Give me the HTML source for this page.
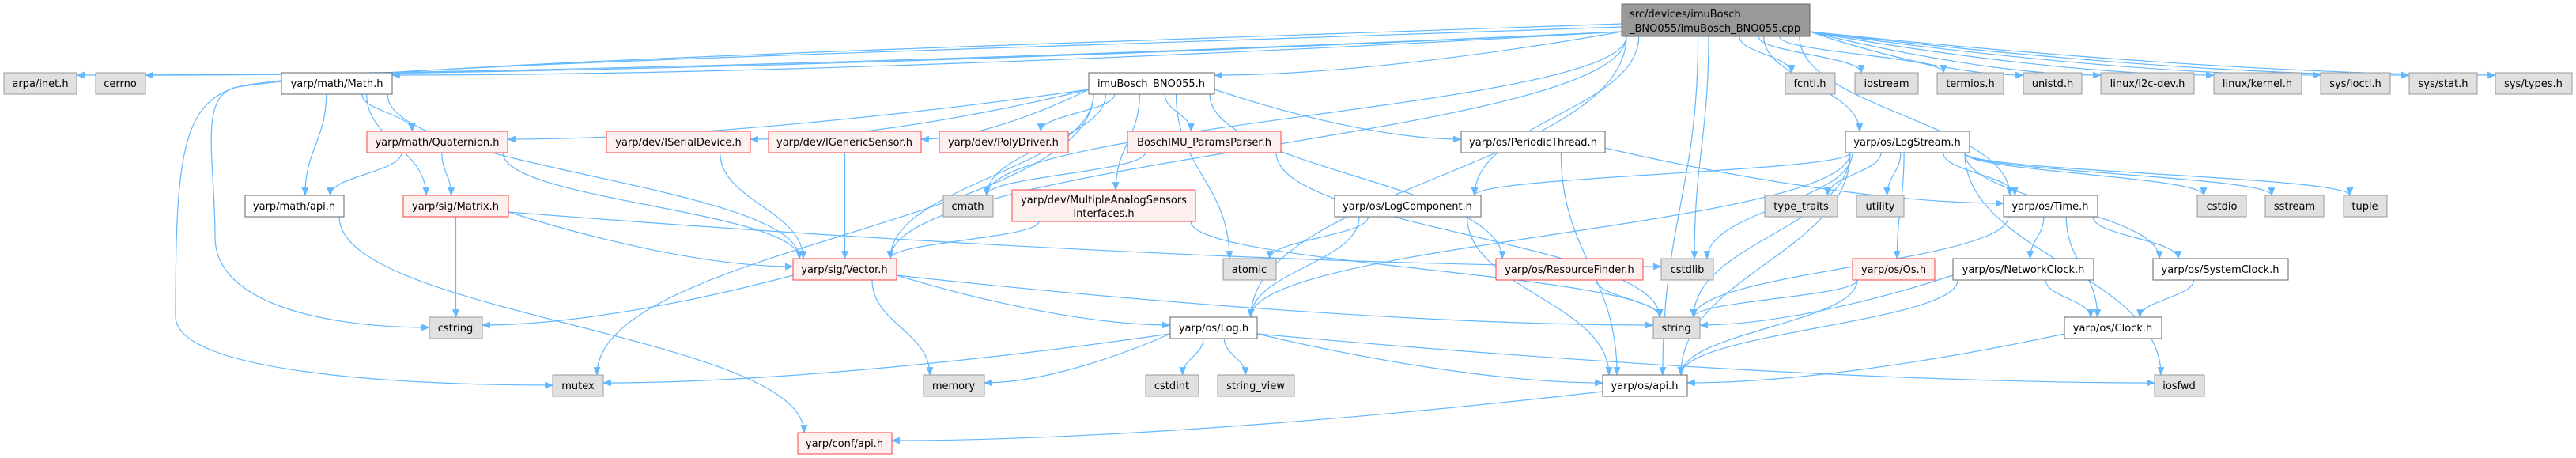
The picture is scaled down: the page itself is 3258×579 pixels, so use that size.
<!DOCTYPE html>
<html><head><meta charset="utf-8"><style>
html,body{margin:0;padding:0;background:#fff;}
svg{display:block;}
text{font-family:"DejaVu Sans","Liberation Sans",sans-serif;font-size:13px;fill:#000;}
</style></head><body>
<svg id="g" width="3258" height="579" viewBox="0 0 3258 579" xmlns="http://www.w3.org/2000/svg">
<defs><marker id="a" viewBox="0 0 10 10" refX="9" refY="5" markerWidth="11" markerHeight="11" markerUnits="userSpaceOnUse" orient="auto"><path d="M0,1 L10,5 L0,9 z" fill="#63b8ff"/></marker></defs>
<g id="edges" fill="none" stroke="#63b8ff" stroke-width="1.2"></g>
<g id="nodes">
<rect x="2051" y="5" width="238" height="41" fill="#999" stroke="#666"/><text x="2061" y="22">src/devices/imuBosch</text><text x="2061" y="40">_BNO055/imuBosch_BNO055.cpp</text>
<rect x="5" y="92" width="92" height="27" fill="#e0e0e0" stroke="#999"/><text x="51" y="110" text-anchor="middle">arpa/inet.h</text>
<rect x="121" y="92" width="63" height="27" fill="#e0e0e0" stroke="#999"/><text x="152" y="110" text-anchor="middle">cerrno</text>
<rect x="356" y="92" width="140" height="27" fill="#fff" stroke="#666"/><text x="426" y="110" text-anchor="middle">yarp/math/Math.h</text>
<rect x="1377" y="92" width="159" height="27" fill="#fff" stroke="#666"/><text x="1456" y="110" text-anchor="middle">imuBosch_BNO055.h</text>
<rect x="2258" y="92" width="63" height="27" fill="#e0e0e0" stroke="#999"/><text x="2289" y="110" text-anchor="middle">fcntl.h</text>
<rect x="2346" y="92" width="80" height="27" fill="#e0e0e0" stroke="#999"/><text x="2386" y="110" text-anchor="middle">iostream</text>
<rect x="2450" y="92" width="84" height="27" fill="#e0e0e0" stroke="#999"/><text x="2492" y="110" text-anchor="middle">termios.h</text>
<rect x="2559" y="92" width="74" height="27" fill="#e0e0e0" stroke="#999"/><text x="2596" y="110" text-anchor="middle">unistd.h</text>
<rect x="2657" y="92" width="118" height="27" fill="#e0e0e0" stroke="#999"/><text x="2716" y="110" text-anchor="middle">linux/i2c-dev.h</text>
<rect x="2800" y="92" width="111" height="27" fill="#e0e0e0" stroke="#999"/><text x="2855" y="110" text-anchor="middle">linux/kernel.h</text>
<rect x="2935" y="92" width="88" height="27" fill="#e0e0e0" stroke="#999"/><text x="2979" y="110" text-anchor="middle">sys/ioctl.h</text>
<rect x="3047" y="92" width="86" height="27" fill="#e0e0e0" stroke="#999"/><text x="3090" y="110" text-anchor="middle">sys/stat.h</text>
<rect x="3156" y="92" width="97" height="27" fill="#e0e0e0" stroke="#999"/><text x="3204" y="110" text-anchor="middle">sys/types.h</text>
<rect x="464" y="166" width="178" height="27" fill="#fff0f0" stroke="#ff4040"/><text x="553" y="184" text-anchor="middle">yarp/math/Quaternion.h</text>
<rect x="767" y="166" width="182" height="27" fill="#fff0f0" stroke="#ff4040"/><text x="858" y="184" text-anchor="middle">yarp/dev/ISerialDevice.h</text>
<rect x="972" y="166" width="193" height="27" fill="#fff0f0" stroke="#ff4040"/><text x="1068" y="184" text-anchor="middle">yarp/dev/IGenericSensor.h</text>
<rect x="1188" y="166" width="163" height="27" fill="#fff0f0" stroke="#ff4040"/><text x="1269" y="184" text-anchor="middle">yarp/dev/PolyDriver.h</text>
<rect x="1426" y="166" width="194" height="27" fill="#fff0f0" stroke="#ff4040"/><text x="1523" y="184" text-anchor="middle">BoschIMU_ParamsParser.h</text>
<rect x="1848" y="166" width="182" height="27" fill="#fff" stroke="#666"/><text x="1939" y="184" text-anchor="middle">yarp/os/PeriodicThread.h</text>
<rect x="2334" y="166" width="157" height="27" fill="#fff" stroke="#666"/><text x="2412" y="184" text-anchor="middle">yarp/os/LogStream.h</text>
<rect x="310" y="247" width="125" height="27" fill="#fff" stroke="#666"/><text x="372" y="265" text-anchor="middle">yarp/math/api.h</text>
<rect x="510" y="247" width="133" height="27" fill="#fff0f0" stroke="#ff4040"/><text x="576" y="265" text-anchor="middle">yarp/sig/Matrix.h</text>
<rect x="1193" y="247" width="63" height="27" fill="#e0e0e0" stroke="#999"/><text x="1224" y="265" text-anchor="middle">cmath</text>
<rect x="1280" y="240" width="232" height="40" fill="#fff0f0" stroke="#ff4040"/><text x="1396" y="257" text-anchor="middle">yarp/dev/MultipleAnalogSensors</text><text x="1396" y="274" text-anchor="middle">Interfaces.h</text>
<rect x="1688" y="247" width="185" height="27" fill="#fff" stroke="#666"/><text x="1780" y="265" text-anchor="middle">yarp/os/LogComponent.h</text>
<rect x="2232" y="247" width="92" height="27" fill="#e0e0e0" stroke="#999"/><text x="2278" y="265" text-anchor="middle">type_traits</text>
<rect x="2348" y="247" width="60" height="27" fill="#e0e0e0" stroke="#999"/><text x="2378" y="265" text-anchor="middle">utility</text>
<rect x="2534" y="247" width="119" height="27" fill="#fff" stroke="#666"/><text x="2593" y="265" text-anchor="middle">yarp/os/Time.h</text>
<rect x="2779" y="247" width="62" height="27" fill="#e0e0e0" stroke="#999"/><text x="2810" y="265" text-anchor="middle">cstdio</text>
<rect x="2865" y="247" width="74" height="27" fill="#e0e0e0" stroke="#999"/><text x="2902" y="265" text-anchor="middle">sstream</text>
<rect x="2964" y="247" width="55" height="27" fill="#e0e0e0" stroke="#999"/><text x="2991" y="265" text-anchor="middle">tuple</text>
<rect x="1003" y="327" width="131" height="27" fill="#fff0f0" stroke="#ff4040"/><text x="1068" y="345" text-anchor="middle">yarp/sig/Vector.h</text>
<rect x="1547" y="327" width="67" height="27" fill="#e0e0e0" stroke="#999"/><text x="1580" y="345" text-anchor="middle">atomic</text>
<rect x="1892" y="327" width="186" height="27" fill="#fff0f0" stroke="#ff4040"/><text x="1985" y="345" text-anchor="middle">yarp/os/ResourceFinder.h</text>
<rect x="2101" y="327" width="66" height="27" fill="#e0e0e0" stroke="#999"/><text x="2134" y="345" text-anchor="middle">cstdlib</text>
<rect x="2343" y="327" width="104" height="27" fill="#fff0f0" stroke="#ff4040"/><text x="2395" y="345" text-anchor="middle">yarp/os/Os.h</text>
<rect x="2470" y="327" width="178" height="27" fill="#fff" stroke="#666"/><text x="2559" y="345" text-anchor="middle">yarp/os/NetworkClock.h</text>
<rect x="2723" y="327" width="171" height="27" fill="#fff" stroke="#666"/><text x="2808" y="345" text-anchor="middle">yarp/os/SystemClock.h</text>
<rect x="543" y="401" width="67" height="27" fill="#e0e0e0" stroke="#999"/><text x="576" y="419" text-anchor="middle">cstring</text>
<rect x="1480" y="401" width="110" height="27" fill="#fff" stroke="#666"/><text x="1535" y="419" text-anchor="middle">yarp/os/Log.h</text>
<rect x="2091" y="401" width="59" height="27" fill="#e0e0e0" stroke="#999"/><text x="2120" y="419" text-anchor="middle">string</text>
<rect x="2611" y="401" width="123" height="27" fill="#fff" stroke="#666"/><text x="2672" y="419" text-anchor="middle">yarp/os/Clock.h</text>
<rect x="699" y="474" width="64" height="27" fill="#e0e0e0" stroke="#999"/><text x="731" y="492" text-anchor="middle">mutex</text>
<rect x="1168" y="474" width="77" height="27" fill="#e0e0e0" stroke="#999"/><text x="1206" y="492" text-anchor="middle">memory</text>
<rect x="1449" y="474" width="67" height="27" fill="#e0e0e0" stroke="#999"/><text x="1482" y="492" text-anchor="middle">cstdint</text>
<rect x="1540" y="474" width="97" height="27" fill="#e0e0e0" stroke="#999"/><text x="1588" y="492" text-anchor="middle">string_view</text>
<rect x="2027" y="474" width="107" height="27" fill="#fff" stroke="#666"/><text x="2080" y="492" text-anchor="middle">yarp/os/api.h</text>
<rect x="2725" y="474" width="63" height="27" fill="#e0e0e0" stroke="#999"/><text x="2756" y="492" text-anchor="middle">iosfwd</text>
<rect x="1009" y="547" width="119" height="27" fill="#fff0f0" stroke="#ff4040"/><text x="1068" y="565" text-anchor="middle">yarp/conf/api.h</text>
</g>
</svg>
<script>
var N={T:[2051,5,2289,46],arpa:[5,92,97,119],cerrno:[121,92,184,119],math:[356,92,496,119],imu:[1377,92,1536,119],fcntl:[2258,92,2321,119],iostream:[2346,92,2426,119],termios:[2450,92,2534,119],unistd:[2559,92,2633,119],i2c:[2657,92,2775,119],kernel:[2800,92,2911,119],ioctl:[2935,92,3023,119],stat:[3047,92,3133,119],types:[3156,92,3253,119],quat:[464,166,642,193],iser:[767,166,949,193],igen:[972,166,1165,193],poly:[1188,166,1351,193],bosch:[1426,166,1620,193],peri:[1848,166,2030,193],lstream:[2334,166,2491,193],mapi:[310,247,435,274],matrix:[510,247,643,274],cmath:[1193,247,1256,274],multi:[1280,240,1512,280],lcomp:[1688,247,1873,274],tt:[2232,247,2324,274],util:[2348,247,2408,274],time:[2534,247,2653,274],cstdio:[2779,247,2841,274],sstream:[2865,247,2939,274],tuple:[2964,247,3019,274],vector:[1003,327,1134,354],atomic:[1547,327,1614,354],rf:[1892,327,2078,354],cstdlib:[2101,327,2167,354],os:[2343,327,2447,354],nclock:[2470,327,2648,354],sclock:[2723,327,2894,354],cstring:[543,401,610,428],log:[1480,401,1590,428],string:[2091,401,2150,428],clock:[2611,401,2734,428],mutex:[699,474,763,501],memory:[1168,474,1245,501],cstdint:[1449,474,1516,501],sv:[1540,474,1637,501],osapi:[2027,474,2134,501],iosfwd:[2725,474,2788,501],conf:[1009,547,1128,574]};
var E=[["T","arpa"],["T","cerrno"],["T","math"],["T","cmath"],["T","imu"],["T","vector"],["T","log"],["T","cstdlib"],["T","lcomp"],["T","lstream"],["T","time"],["T","fcntl"],["T","iostream"],["T","termios"],["T","unistd"],["T","i2c"],["T","kernel"],["T","ioctl"],["T","stat"],["T","types"],["T","osapi"],
["math","quat"],["math","mapi"],["math","matrix"],["math","vector"],["quat","mapi"],["quat","matrix"],["quat","vector"],["matrix","cstring"],["matrix","vector"],["matrix","cstdlib"],["mapi","conf"],
["imu","quat"],["imu","iser"],["imu","igen"],["imu","poly"],["imu","bosch"],["imu","multi"],["imu","peri"],["imu","atomic"],["imu","rf"],["imu","vector"],["imu","mutex"],["imu","cmath"],
["iser","vector"],["igen","vector"],["multi","vector"],["multi","string"],["bosch","cmath"],["bosch","string"],
["vector","cstring"],["vector","memory"],["vector","log"],["vector","string"],
["log","mutex"],["log","memory"],["log","cstdint"],["log","sv"],["log","osapi"],["log","iosfwd"],
["lcomp","atomic"],["lcomp","log"],["lcomp","osapi"],["peri","time"],["peri","osapi"],["rf","string"],
["lstream","cstdlib"],["lstream","string"],["lstream","log"],["lstream","lcomp"],["lstream","tt"],["lstream","util"],["lstream","os"],["lstream","time"],["lstream","sclock"],["lstream","cstdio"],["lstream","sstream"],["lstream","tuple"],["lstream","iosfwd"],["lstream","osapi"],
["time","string"],["time","nclock"],["time","clock"],["time","sclock"],["os","string"],["os","osapi"],["nclock","string"],["nclock","osapi"],["nclock","clock"],["sclock","clock"],["clock","osapi"],["osapi","conf"]];
var TOP={"lstream>cstdio":1,"lstream>sstream":1,"lstream>tuple":1,"lstream>lcomp":1};
var g=document.getElementById("edges"),s="";
function cl(v,a,b){return Math.max(a,Math.min(b,v));}
function P(d){s+='<path d="'+d+'" marker-end="url(#a)"/>';}
E.forEach(function(e){var a=N[e[0]],b=N[e[1]];var ac=(a[0]+a[2])/2,bc=(b[0]+b[2])/2;
var dxr=bc-ac, dyr=b[1]-a[3];
if(!TOP[e[0]+">"+e[1]]&&Math.abs(dxr)>7*Math.max(dyr,10)&&!(bc>=a[0]&&bc<=a[2])){
 var right=dxr<0; var sx=right?a[0]:a[2]; var sy=a[3]-6;
 var ex=right?b[2]:b[0]; var ey=b[1]+Math.min(10,(b[3]-b[1])/2);
 if(e[0]=="T"&&b[1]<150){ey=b[1]+3;}
 P('M'+sx+','+sy+' C'+(sx+(ex-sx)*0.3)+','+(sy+(ey-sy)*0.5)+' '+(sx+(ex-sx)*0.7)+','+ey+' '+ex+','+ey);
 return;}
var sx=cl(ac+dxr*0.25,a[0]+6,a[2]-6),sy=a[3];
var ex=cl(bc-dxr*0.25,b[0]+8,b[2]-8),ey=b[1];
var dy=ey-sy;
P('M'+sx+','+sy+' C'+sx+','+(sy+dy*0.45)+' '+ex+','+(ey-dy*0.45)+' '+ex+','+ey);});
P('M2051,30 C1200,60 500,80 300,110 C250,120 272,200 272,300 C272,380 400,414 543,414');
P('M2051,34 C1200,64 400,84 300,110 C230,130 222,200 222,400 C222,470 500,487 699,487');
g.innerHTML=s;
</script>
</body></html>
